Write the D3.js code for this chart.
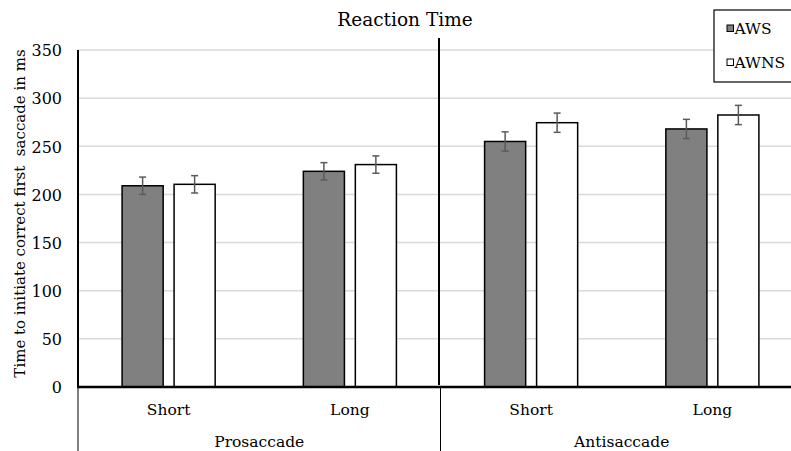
<!DOCTYPE html>
<html>
<head>
<meta charset="utf-8">
<script src="https://cdn.jsdelivr.net/npm/d3@7"></script>
<style>
  body { margin: 0; background: #fff; }
  svg { display: block; font-family: "DejaVu Serif", serif; }
</style>
</head>
<body>
<script>
// data
var tasks = ["Prosaccade", "Antisaccade"];
var delays = ["Short", "Long"];
var series = ["AWS", "AWNS"];
var awsMeans = [209, 224, 255, 268];
var awnsMeans = [210.5, 231, 274.5, 282.5];
var awsErr = [9, 9, 10, 10];
var awnsErr = [9, 9, 10, 10];
var yTicks = [0, 50, 100, 150, 200, 250, 300, 350];

var width = 791, height = 451;
var margin = {top: 50, right: -12, bottom: 64, left: 78};
var innerW = width - margin.left - margin.right;
var innerH = height - margin.top - margin.bottom;

// one entry per category (task x delay)
var cats = [];
tasks.forEach(function(t, ti) {
  delays.forEach(function(d, di) {
    var i = ti * delays.length + di;
    cats.push({id: t + "-" + d, task: t, delay: d,
      values: [
        {s: series[0], v: awsMeans[i], e: awsErr[i]},
        {s: series[1], v: awnsMeans[i], e: awnsErr[i]}
      ]});
  });
});

var svg = d3.select("body").append("svg")
  .attr("width", width)
  .attr("height", height);

var g = svg.append("g")
  .attr("transform", "translate(" + margin.left + "," + margin.top + ")");

var x = d3.scaleBand()
  .domain(cats.map(function(d) { return d.id; }))
  .range([0, innerW])
  .padding(0);

var xs = d3.scaleBand()
  .domain(series)
  .range([0, x.bandwidth()])
  .paddingInner(0.21)
  .paddingOuter(0.848);

var y = d3.scaleLinear()
  .domain([0, 350])
  .range([innerH, 0]);

var color = d3.scaleOrdinal().domain(series).range(["#808080", "#ffffff"]);

// gridlines
g.append("g")
  .selectAll("line")
  .data(yTicks.filter(function(t) { return t > 0; }))
  .enter().append("line")
    .attr("x1", 0)
    .attr("x2", innerW)
    .attr("y1", function(d) { return y(d); })
    .attr("y2", function(d) { return y(d); })
    .attr("stroke", "#d9d9d9")
    .attr("stroke-width", 1.5);

// bars
var groups = g.selectAll(".cat")
  .data(cats)
  .enter().append("g")
    .attr("class", "cat")
    .attr("transform", function(d) { return "translate(" + x(d.id) + ",0)"; });

groups.selectAll("rect")
  .data(function(d) { return d.values; })
  .enter().append("rect")
    .attr("x", function(d) { return xs(d.s); })
    .attr("width", xs.bandwidth())
    .attr("y", function(d) { return y(d.v); })
    .attr("height", function(d) { return y(0) - y(d.v); })
    .attr("fill", function(d) { return color(d.s); })
    .attr("stroke", "#000")
    .attr("stroke-width", 1.5);

// error bars
var err = groups.selectAll(".err")
  .data(function(d) { return d.values; })
  .enter().append("g")
    .attr("class", "err")
    .attr("stroke", "#5a5a5a")
    .attr("stroke-width", 1.5);

err.append("line")
  .attr("x1", function(d) { return xs(d.s) + xs.bandwidth() / 2; })
  .attr("x2", function(d) { return xs(d.s) + xs.bandwidth() / 2; })
  .attr("y1", function(d) { return y(d.v + d.e); })
  .attr("y2", function(d) { return y(d.v - d.e); });

[1, -1].forEach(function(sign) {
  err.append("line")
    .attr("x1", function(d) { return xs(d.s) + xs.bandwidth() / 2 - 3.5; })
    .attr("x2", function(d) { return xs(d.s) + xs.bandwidth() / 2 + 3.5; })
    .attr("y1", function(d) { return y(d.v + sign * d.e); })
    .attr("y2", function(d) { return y(d.v + sign * d.e); });
});

// divider between tasks inside the plot
var taskW = x.bandwidth() * delays.length;
g.append("line")
  .attr("x1", taskW - 1.5)
  .attr("x2", taskW - 1.5)
  .attr("y1", -12)
  .attr("y2", innerH - 2)
  .attr("stroke", "#000")
  .attr("stroke-width", 2);

// y axis
var yAxis = d3.axisLeft(y).tickValues(yTicks).tickSize(0).tickPadding(16);
var ya = g.append("g").call(yAxis);
ya.select(".domain").remove();
ya.selectAll("text")
  .style("font-family", "DejaVu Serif, serif")
  .style("font-size", "16px")
  .attr("dy", "0.36em")
  .attr("fill", "#000");

g.append("line")
  .attr("x1", 0).attr("x2", 0)
  .attr("y1", 0).attr("y2", innerH)
  .attr("stroke", "#000").attr("stroke-width", 2);

// x axis line
g.append("line")
  .attr("x1", -1).attr("x2", innerW)
  .attr("y1", innerH).attr("y2", innerH)
  .attr("stroke", "#000").attr("stroke-width", 2.5);

// category labels
g.selectAll(".delay")
  .data(cats)
  .enter().append("text")
    .attr("class", "delay")
    .attr("x", function(d) { return x(d.id) + x.bandwidth() / 2; })
    .attr("y", innerH + 28)
    .attr("text-anchor", "middle")
    .style("font-size", "15.5px")
    .text(function(d) { return d.delay; });

g.selectAll(".task")
  .data(tasks)
  .enter().append("text")
    .attr("class", "task")
    .attr("x", function(d, i) { return i * taskW + taskW / 2; })
    .attr("y", innerH + 60)
    .attr("text-anchor", "middle")
    .style("font-size", "15.5px")
    .text(function(d) { return d; });

// separators below axis
g.selectAll(".sep")
  .data(d3.range(tasks.length + 1))
  .enter().append("line")
    .attr("x1", function(d) { return d * taskW; })
    .attr("x2", function(d) { return d * taskW; })
    .attr("y1", innerH)
    .attr("y2", innerH + margin.bottom)
    .attr("stroke", "#000")
    .attr("stroke-width", 1);

// title
svg.append("text")
  .attr("x", 405)
  .attr("y", 26)
  .attr("text-anchor", "middle")
  .style("font-size", "18.5px")
  .text("Reaction Time");

// y label
svg.append("text")
  .attr("transform", "translate(25," + (margin.top + innerH / 2 - 5) + ") rotate(-90)")
  .attr("text-anchor", "middle")
  .style("font-size", "15px")
  .style("white-space", "pre")
  .text("Time to initiate correct first  saccade in ms");

// legend
var legend = svg.append("g").attr("transform", "translate(714,10)");
legend.append("rect")
  .attr("width", 90)
  .attr("height", 72)
  .attr("fill", "#fff")
  .attr("stroke", "#000")
  .attr("stroke-width", 1.2);

var li = legend.selectAll(".li")
  .data(series)
  .enter().append("g")
    .attr("class", "li")
    .attr("transform", function(d, i) { return "translate(13," + (18 + i * 34) + ")"; });

li.append("rect")
  .attr("x", 0).attr("y", -3)
  .attr("width", 6.5).attr("height", 6.5)
  .attr("fill", function(d) { return color(d); })
  .attr("stroke", "#000")
  .attr("stroke-width", 1);

li.append("text")
  .attr("x", 7.5)
  .attr("y", 5.5)
  .style("font-size", "15.5px")
  .text(function(d) { return d; });
</script>
</body>
</html>
